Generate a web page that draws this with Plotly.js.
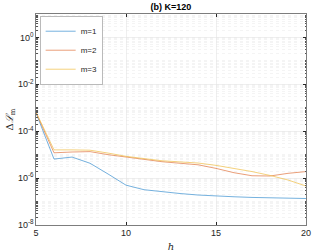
<!DOCTYPE html>
<html>
<head>
<meta charset="utf-8">
<script src="https://cdn.plot.ly/plotly-3.0.1.min.js"></script>
<style>html,body{margin:0;padding:0;background:#fff;}#chart{width:312px;height:252px;}</style>
</head>
<body>
<div id="chart"></div>
<script>
var h = [5, 6, 7, 8, 9, 10, 11, 12, 13, 14, 15, 16, 17, 18, 19, 20];
var m1 = [6.0e-4, 6.5e-6, 7.9e-6, 4.3e-6, 1.5e-6, 5.0e-7, 3.2e-7, 2.6e-7, 2.2e-7, 1.9e-7, 1.7e-7, 1.6e-7, 1.5e-7, 1.45e-7, 1.4e-7, 1.35e-7];
var m2 = [6.3e-4, 1.2e-5, 1.3e-5, 1.35e-5, 1.0e-5, 7.8e-6, 6.2e-6, 5.0e-6, 4.3e-6, 3.7e-6, 2.6e-6, 1.7e-6, 1.26e-6, 1.23e-6, 1.6e-6, 1.9e-6];
var m3 = [6.6e-4, 1.6e-5, 1.6e-5, 1.55e-5, 1.17e-5, 8.5e-6, 6.8e-6, 5.5e-6, 4.9e-6, 4.4e-6, 3.5e-6, 2.6e-6, 1.9e-6, 1.3e-6, 8.3e-7, 4.6e-7];
var seriesNames = ['m=1', 'm=2', 'm=3'];
var colors = ['#3a8fd0', '#e0743f', '#efbd45'];
var yTickVals = [1e-8, 1e-6, 1e-4, 1e-2, 1];
var yTickText = ['10<sup>-8</sup>', '10<sup>-6</sup>', '10<sup>-4</sup>', '10<sup>-2</sup>', '10<sup>0</sup>'];
var xTickVals = [5, 10, 15, 20];

var minorY = [];
for (var d = -8; d <= 0; d++) {
  for (var k = 2; k <= 10; k++) {
    minorY.push(k * Math.pow(10, d));
  }
}

var ys = [m1, m2, m3];
var traces = ys.map(function (y, i) {
  return {x: h, y: y, type: 'scatter', mode: 'lines', name: seriesNames[i],
          line: {color: colors[i], width: 0.7}};
});

var font = 'Liberation Sans, Arial, sans-serif';
var layout = {
  width: 312, height: 252,
  margin: {l: 36, r: 6, t: 14, b: 27},
  paper_bgcolor: '#fff', plot_bgcolor: '#fff',
  font: {family: font, size: 9, color: '#262626'},
  title: {text: '<b>(b) K=120</b>', font: {family: font, size: 9, color: '#000'},
          x: 0.548, xanchor: 'center', y: 0.985, yanchor: 'top'},
  showlegend: true,
  legend: {x: 0.015, y: 0.99, xanchor: 'left', yanchor: 'top', bgcolor: '#fff',
           bordercolor: '#8c8c8c', borderwidth: 0.6, font: {size: 8, color: '#262626'},
           itemwidth: 30, tracegroupgap: 0},
  xaxis: {range: [5, 20], tickvals: xTickVals, ticks: 'inside', ticklen: 3, tickcolor: '#262626',
          showline: true, linecolor: '#262626', linewidth: 0.6, mirror: 'ticks',
          showgrid: true, gridcolor: '#e4e4e4', gridwidth: 0.6, zeroline: false,
          tickfont: {family: font, size: 9, color: '#262626'},
          title: {text: '<i>h</i>', font: {family: 'DejaVu Serif, serif', size: 10, color: '#262626'}, standoff: 6}},
  yaxis: {type: 'log', range: [-8, 1], tickvals: yTickVals, ticktext: yTickText,
          ticks: 'inside', ticklen: 3, tickcolor: '#262626',
          showline: true, linecolor: '#262626', linewidth: 0.6, mirror: 'ticks',
          showgrid: true, gridcolor: '#e4e4e4', gridwidth: 0.6, zeroline: false,
          tickfont: {family: font, size: 9, color: '#262626'},
          minor: {tickmode: 'array', tickvals: minorY, ticks: 'inside', ticklen: 1.5, tickcolor: '#555',
                  showgrid: true, gridcolor: '#ececec', griddash: 'dot', gridwidth: 0.6},
          title: {text: 'Δ<i>ℒ</i><sub>m</sub>', font: {family: 'DejaVu Serif, serif', size: 10, color: '#262626'}, standoff: 2}}
};

Plotly.newPlot('chart', traces, layout, {staticPlot: true, displayModeBar: false});
</script>
</body>
</html>
